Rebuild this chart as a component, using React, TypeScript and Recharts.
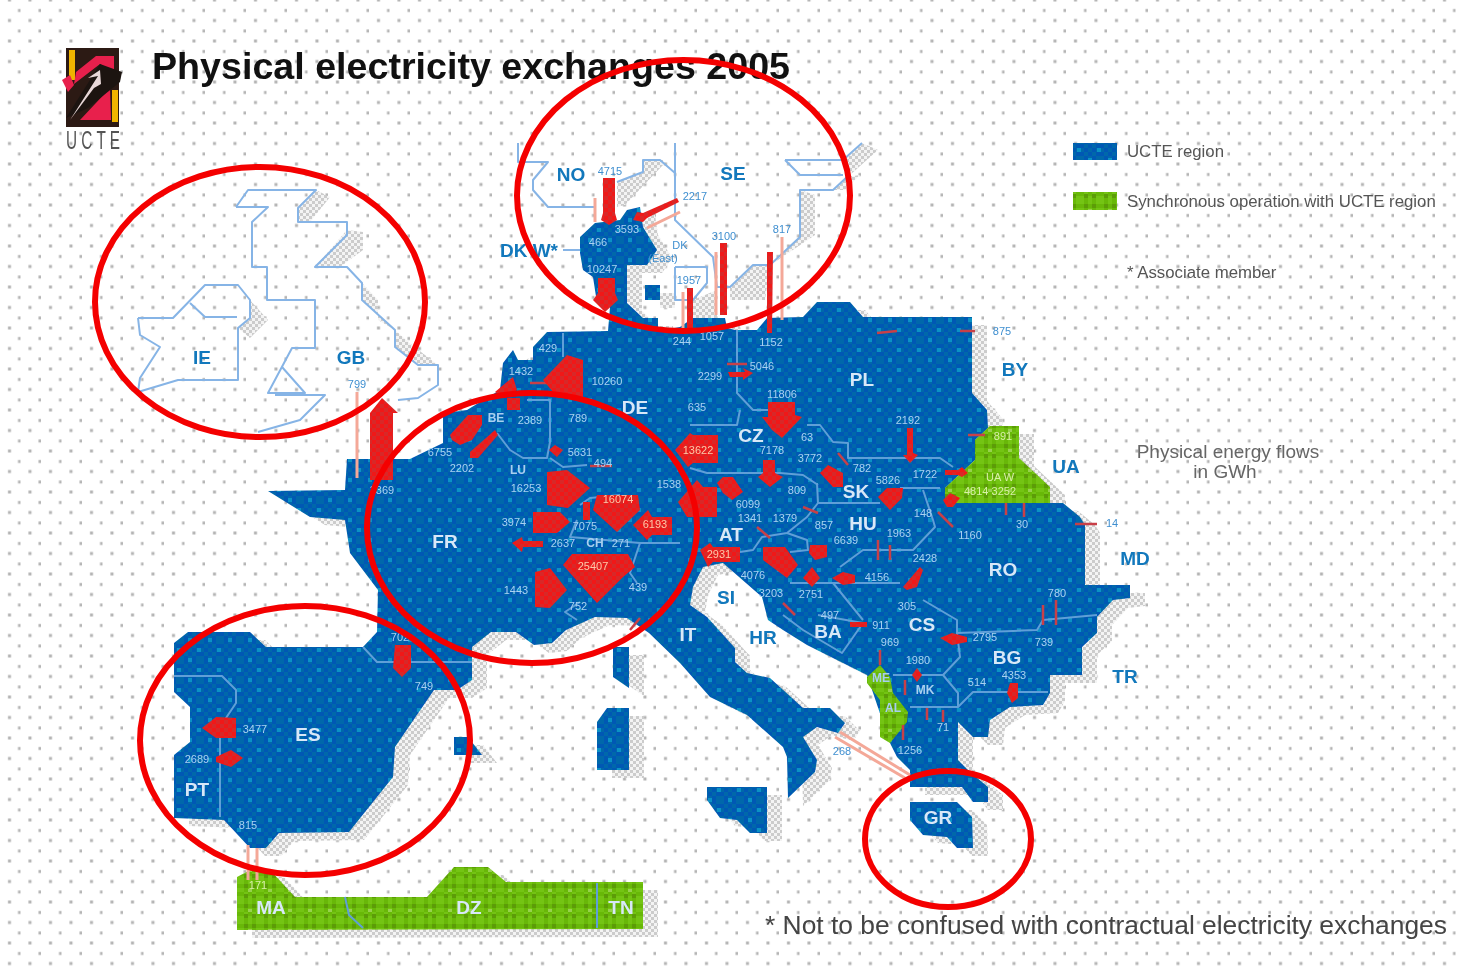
import { ReferenceArea, Scatter, ScatterChart, XAxis, YAxis } from "recharts";

type Pt = number[];

const PAGE: Pt[] = [[0, 0], [1462, 0], [1462, 968], [0, 968]];

const MAINLAND: Pt[] = [
  [268, 491], [345, 490], [347, 459], [410, 459], [443, 443], [443, 413], [467, 410], [500, 390], [503, 363],
  [513, 350], [518, 360], [533, 360], [533, 347], [547, 332], [608, 331], [610, 307], [597, 303], [593, 277],
  [583, 270], [580, 253], [580, 237], [595, 223], [620, 220], [627, 210], [640, 207], [643, 227], [657, 250],
  [647, 265], [627, 265], [627, 303], [643, 318], [658, 318], [658, 331], [680, 327], [693, 318], [725, 318],
  [727, 328], [735, 330], [757, 330], [767, 318], [803, 317], [817, 302], [850, 302], [863, 317], [972, 317],
  [972, 393], [987, 410], [988, 428], [975, 440], [975, 460], [945, 488], [945, 503], [1050, 503], [1063, 503],
  [1080, 517], [1085, 525], [1085, 585], [1130, 585], [1130, 598], [1113, 600], [1097, 617], [1097, 633],
  [1082, 647], [1082, 675], [1050, 675], [1050, 693], [1043, 705], [1010, 707], [990, 720], [988, 737],
  [973, 737], [958, 722], [958, 760], [970, 772], [988, 787], [988, 802], [973, 802], [962, 787], [910, 787],
  [910, 770], [897, 757], [890, 743], [867, 675], [837, 660], [807, 645], [783, 630], [768, 620], [762, 597],
  [723, 563], [703, 567], [693, 587], [690, 605], [707, 617], [735, 648], [735, 662], [747, 673], [770, 678],
  [803, 708], [830, 708], [845, 723], [838, 733], [817, 727], [803, 737], [817, 760], [815, 772], [788, 798],
  [787, 757], [783, 747], [747, 715], [710, 697], [680, 663], [649, 633], [627, 618], [595, 617], [566, 630],
  [552, 643], [534, 645], [516, 632], [491, 632], [472, 647], [472, 680], [457, 690], [434, 690], [395, 747],
  [393, 777], [349, 832], [279, 833], [266, 848], [250, 848], [224, 820], [174, 818], [174, 755], [190, 742],
  [190, 707], [174, 692], [174, 643], [188, 632], [250, 632], [266, 647], [363, 647], [377, 632], [378, 590],
  [350, 553], [345, 520], [310, 517],
];
const CORSICA: Pt[] = [[613, 647], [629, 647], [629, 688], [613, 677]];
const SARDINIA: Pt[] = [[597, 722], [607, 708], [629, 708], [629, 770], [597, 770]];
const BALEARIC: Pt[] = [[454, 737], [468, 737], [482, 755], [454, 755]];
const SICILY: Pt[] = [[707, 787], [767, 787], [767, 833], [750, 833], [737, 820], [720, 818], [707, 800]];
const CRETE: Pt[] = [[910, 802], [957, 802], [972, 817], [973, 848], [957, 848], [947, 837], [923, 835], [910, 820]];
const ZEALAND: Pt[] = [[645, 285], [660, 285], [660, 300], [645, 300]];
const BLUE_LAND = [MAINLAND, CORSICA, SARDINIA, BALEARIC, SICILY, CRETE, ZEALAND];

const UKRAINE_WEST: Pt[] = [[975, 440], [990, 426], [1019, 426], [1019, 458], [1050, 487], [1050, 503], [945, 503], [945, 488], [975, 460]];
const ALBANIA: Pt[] = [[867, 677], [880, 665], [890, 677], [893, 693], [908, 712], [907, 722], [890, 743], [880, 737], [880, 700], [867, 683]];
const MAGHREB: Pt[] = [[237, 930], [237, 877], [256, 867], [270, 870], [295, 897], [427, 897], [454, 867], [488, 867], [506, 882], [643, 882], [643, 929]];
const GREEN_LAND = [UKRAINE_WEST, ALBANIA, MAGHREB];

const LOOSE_SHADOWS: Pt[][] = [
  [[298, 208], [316, 190], [330, 197], [310, 222], [298, 222]],
  [[347, 230], [363, 232], [363, 250], [340, 267], [315, 267]],
  [[362, 283], [378, 300], [378, 320], [395, 330], [362, 300]],
  [[395, 330], [412, 345], [438, 365], [418, 365], [395, 347]],
  [[250, 300], [268, 320], [250, 338], [238, 328], [250, 318]],
  [[617, 182], [643, 172], [643, 160], [663, 160], [663, 165], [625, 205], [617, 207]],
  [[800, 190], [815, 195], [815, 235], [775, 262], [800, 237]],
  [[847, 177], [860, 175], [845, 190], [833, 190]],
  [[843, 160], [862, 143], [878, 150], [850, 175]],
  [[693, 300], [717, 290], [717, 318], [693, 318]],
  [[730, 287], [753, 265], [770, 265], [765, 300], [730, 300]],
];

const OUTLINES: Pt[][] = [
  [[236, 207], [248, 190], [316, 190], [298, 208], [298, 222], [347, 222], [347, 235], [315, 267], [347, 267], [362, 283], [362, 300], [395, 330], [395, 347], [418, 365], [438, 365], [438, 385], [418, 398], [398, 400]],
  [[236, 207], [268, 207], [252, 222], [252, 267], [267, 267], [267, 300], [315, 300], [315, 348], [292, 348], [268, 393], [305, 393], [282, 367]],
  [[275, 395], [325, 395], [300, 420], [258, 432]],
  [[138, 318], [173, 318], [205, 285], [238, 285], [250, 300], [250, 318], [238, 328], [238, 380], [178, 380], [138, 392], [140, 378], [160, 347], [140, 335], [138, 318]],
  [[190, 303], [205, 317], [237, 317]],
  [[518, 143], [518, 162], [525, 162], [548, 162], [533, 180], [533, 190], [548, 207], [595, 207]],
  [[617, 182], [643, 172], [643, 160], [660, 160], [675, 173]],
  [[675, 143], [675, 220], [713, 257], [717, 287], [730, 287], [753, 265], [770, 265], [800, 237], [800, 190], [833, 190], [847, 177]],
  [[785, 160], [843, 160], [862, 143]],
  [[785, 160], [800, 175], [843, 175]],
  [[675, 267], [707, 267], [707, 283], [693, 300], [675, 300], [675, 267]],
  [[563, 250], [580, 250]],
];

const BORDERS: Pt[][] = [
  [[737, 330], [737, 393], [753, 410], [770, 410]],
  [[740, 410], [737, 425], [690, 425]],
  [[807, 425], [820, 425], [833, 442], [848, 443], [848, 458], [940, 458], [953, 467]],
  [[817, 483], [818, 503], [880, 503]],
  [[690, 468], [707, 473], [780, 473], [803, 475], [818, 485]],
  [[900, 488], [940, 488]],
  [[923, 490], [933, 520], [935, 527], [913, 550], [863, 550], [840, 567]],
  [[790, 583], [900, 583]],
  [[833, 583], [863, 620]],
  [[818, 503], [807, 517], [787, 533], [762, 537], [753, 550], [740, 552]],
  [[787, 533], [807, 540], [808, 550], [790, 552]],
  [[923, 600], [957, 620], [957, 633], [1037, 630], [1043, 620], [1097, 615]],
  [[957, 633], [960, 657], [943, 675], [893, 675]],
  [[943, 675], [958, 693], [958, 707], [910, 707]],
  [[958, 707], [973, 692], [1048, 692]],
  [[818, 615], [863, 623], [842, 653], [803, 630], [783, 615]],
  [[497, 433], [510, 450], [523, 458], [547, 458], [550, 442], [550, 400], [527, 400]],
  [[550, 458], [563, 467], [587, 465]],
  [[577, 520], [570, 537], [640, 543], [680, 543]],
  [[640, 543], [630, 573], [637, 583]],
  [[580, 602], [565, 612], [577, 620]],
  [[580, 505], [590, 498], [620, 495]],
  [[563, 333], [563, 357]],
  [[363, 647], [377, 662], [472, 662]],
  [[174, 676], [222, 676], [236, 690], [236, 703], [220, 727], [220, 817]],
  [[345, 897], [349, 915], [363, 928]],
  [[597, 883], [597, 928]],
];

const RED_ARROWS: Pt[][] = [
  [[370, 480], [370, 413], [382, 398], [398, 413], [393, 413], [393, 480]],
  [[450, 435], [468, 415], [482, 415], [482, 425], [472, 440], [460, 445], [452, 440]],
  [[470, 458], [470, 452], [495, 430], [498, 435], [478, 458]],
  [[549, 450], [555, 445], [563, 450], [557, 457]],
  [[547, 472], [567, 470], [590, 488], [568, 508], [547, 505]],
  [[533, 512], [560, 512], [570, 522], [557, 533], [533, 533]],
  [[597, 495], [638, 495], [640, 510], [617, 532], [593, 510]],
  [[633, 525], [648, 510], [652, 517], [672, 517], [672, 535], [652, 535], [647, 540]],
  [[512, 543], [522, 537], [523, 541], [543, 541], [543, 547], [523, 547], [522, 552]],
  [[563, 565], [572, 554], [628, 554], [635, 567], [623, 577], [597, 603], [570, 573]],
  [[535, 572], [550, 568], [567, 590], [550, 608], [535, 607]],
  [[678, 502], [697, 480], [703, 487], [717, 487], [717, 517], [687, 517]],
  [[675, 450], [690, 433], [693, 435], [718, 435], [718, 463], [693, 463], [688, 467]],
  [[583, 502], [590, 502], [590, 520], [583, 520]],
  [[700, 550], [710, 543], [713, 547], [740, 547], [740, 562], [713, 562], [708, 567]],
  [[543, 380], [567, 355], [583, 360], [583, 398], [558, 398]],
  [[495, 392], [513, 377], [517, 390], [505, 398]],
  [[507, 398], [520, 398], [520, 410], [507, 410]],
  [[603, 178], [615, 178], [615, 213], [617, 220], [609, 225], [601, 220], [603, 213]],
  [[633, 220], [637, 212], [643, 213], [677, 198], [679, 202], [647, 218], [643, 222]],
  [[720, 243], [727, 243], [727, 315], [720, 315]],
  [[767, 252], [773, 252], [772, 333], [767, 333]],
  [[687, 288], [693, 288], [693, 330], [687, 330]],
  [[598, 278], [615, 278], [615, 293], [618, 300], [605, 312], [593, 300], [598, 293]],
  [[728, 372], [745, 372], [743, 368], [753, 373], [743, 380], [743, 377], [730, 377]],
  [[762, 417], [768, 417], [768, 402], [795, 402], [795, 415], [802, 417], [782, 438], [772, 430]],
  [[763, 460], [775, 460], [775, 473], [783, 477], [770, 487], [758, 477], [763, 473]],
  [[717, 483], [723, 477], [733, 477], [743, 492], [732, 500], [723, 493]],
  [[820, 473], [828, 465], [843, 473], [843, 487], [833, 487]],
  [[903, 455], [907, 455], [907, 428], [913, 428], [913, 453], [918, 455], [910, 463]],
  [[878, 497], [887, 488], [903, 488], [902, 498], [890, 510]],
  [[945, 470], [958, 470], [962, 467], [968, 473], [962, 477], [958, 475], [945, 475]],
  [[943, 500], [950, 493], [960, 498], [953, 507], [947, 507]],
  [[810, 545], [827, 545], [827, 557], [815, 560], [809, 553]],
  [[763, 547], [785, 547], [798, 565], [787, 578], [763, 560]],
  [[803, 578], [812, 567], [820, 578], [812, 587]],
  [[832, 578], [843, 572], [855, 575], [855, 583], [843, 585]],
  [[903, 587], [920, 567], [923, 570], [917, 587], [907, 590]],
  [[940, 638], [952, 633], [967, 637], [967, 642], [952, 645]],
  [[1007, 693], [1010, 683], [1018, 683], [1018, 698], [1012, 703]],
  [[912, 675], [917, 668], [922, 675], [917, 682]],
  [[850, 622], [867, 622], [867, 627], [850, 627]],
  [[395, 645], [411, 645], [411, 668], [402, 677], [393, 668]],
  [[202, 728], [216, 717], [236, 718], [236, 738], [216, 738]],
  [[216, 757], [231, 750], [243, 758], [231, 767], [216, 762]],
];

const RED_LINES: Pt[][] = [
  [[727, 364], [747, 364]], [[838, 453], [848, 465]], [[938, 512], [953, 527]], [[757, 527], [770, 538]],
  [[783, 603], [795, 615]], [[803, 507], [818, 513]], [[878, 540], [878, 560]], [[890, 545], [890, 560]],
  [[877, 333], [897, 331]], [[960, 331], [975, 331]], [[968, 435], [985, 435]], [[1006, 503], [1006, 515]],
  [[1024, 503], [1024, 517]], [[1075, 524], [1097, 524]], [[1043, 605], [1043, 625]], [[1056, 600], [1056, 625]],
  [[880, 650], [880, 665]], [[905, 680], [905, 695]], [[927, 708], [927, 720]], [[943, 710], [943, 722]],
  [[903, 725], [903, 740]], [[530, 383], [555, 383]], [[590, 466], [612, 466]], [[640, 618], [630, 630]],
];
const PALE_LINES: Pt[][] = [
  [[782, 237], [782, 320]], [[716, 252], [716, 315]], [[683, 292], [683, 330]], [[595, 198], [595, 222]],
  [[647, 228], [680, 212]], [[357, 392], [357, 478]], [[248, 845], [248, 880]], [[257, 848], [257, 880]],
  [[840, 732], [910, 775]], [[835, 737], [905, 778]],
];

const ELLIPSES: Pt[] = [
  [95, 167, 425, 437],
  [517, 60, 850, 331],
  [367, 393, 697, 663],
  [140, 606, 470, 875],
  [865, 771, 1031, 907],
];

const LEGEND_BLUE: Pt[] = [[1073, 143], [1117, 143], [1117, 160], [1073, 160]];
const LEGEND_GREEN: Pt[] = [[1073, 192], [1117, 192], [1117, 210], [1073, 210]];

const LOGO_FRAME: Pt[] = [[66, 48], [119, 48], [119, 127], [66, 127]];
const LOGO_YELLOW: Pt[][] = [
  [[69, 50], [75, 50], [75, 80], [69, 80]],
  [[112, 90], [118, 90], [118, 122], [112, 122]],
];
const LOGO_RED: Pt[][] = [
  [[76, 72], [96, 56], [114, 56], [114, 72], [100, 64], [74, 84]],
  [[80, 120], [110, 88], [111, 120]],
  [[62, 80], [70, 75], [74, 85], [68, 92]],
];
const LOGO_BLACK: Pt[] = [[66, 118], [100, 64], [122, 72], [120, 82], [88, 108]];
const LOGO_BOLT: Pt[] = [[70, 120], [98, 76], [88, 78], [100, 70], [101, 84], [94, 88]];

const DARK_COUNTRIES: any[][] = [
  ["NO", 571, 174], ["SE", 733, 173], ["DK W*", 529, 250], ["IE", 202, 357], ["GB", 351, 357], ["BY", 1015, 369],
  ["UA", 1066, 466], ["MD", 1135, 558], ["SI", 726, 597], ["HR", 763, 637], ["TR", 1125, 676],
];
const LIGHT_COUNTRIES: any[][] = [
  ["PL", 862, 379], ["DE", 635, 407], ["CZ", 751, 435], ["SK", 856, 491], ["HU", 863, 523], ["AT", 731, 534],
  ["RO", 1003, 569], ["FR", 445, 541], ["IT", 688, 634], ["BA", 828, 631], ["CS", 922, 624], ["BG", 1007, 657],
  ["ES", 308, 734], ["PT", 197, 789], ["GR", 938, 817], ["MA", 271, 907], ["DZ", 469, 907], ["TN", 621, 907],
];
const SMALL_COUNTRIES: any[][] = [
  ["LU", 518, 470], ["CH", 595, 543], ["BE", 496, 418], ["MK", 925, 690], ["AL", 893, 708], ["ME", 881, 678],
];
const DARK_VALUES: any[][] = [
  ["4715", 610, 171], ["2217", 695, 196], ["3100", 724, 236], ["817", 782, 229], ["DK", 680, 245], ["(East)", 663, 258],
  ["1957", 689, 280], ["875", 1002, 331], ["799", 357, 384], ["14", 1112, 523], ["268", 842, 751],
];
const LIGHT_VALUES: any[][] = [
  ["3593", 627, 229], ["466", 598, 242], ["10247", 602, 269], ["244", 682, 341], ["1057", 712, 336], ["1152", 771, 342],
  ["429", 548, 348], ["10260", 607, 381], ["2299", 710, 376], ["5046", 762, 366], ["11806", 782, 394], ["635", 697, 407],
  ["2192", 908, 420], ["1432", 521, 371], ["789", 578, 418], ["2389", 530, 420], ["6755", 440, 452],
  ["2202", 462, 468], ["5631", 580, 452], ["494", 603, 463], ["16253", 526, 488], ["1538", 669, 484], ["3974", 514, 522],
  ["7075", 585, 526], ["2637", 563, 543], ["271", 621, 543], ["1443", 516, 590], ["752", 578, 606], ["439", 638, 587],
  ["3369", 382, 490], ["7178", 772, 450], ["63", 807, 437], ["3772", 810, 458], ["782", 862, 468], ["5826", 888, 480],
  ["1722", 925, 474], ["6099", 748, 504], ["1341", 750, 518], ["1379", 785, 518], ["809", 797, 490], ["857", 824, 525],
  ["6639", 846, 540], ["1963", 899, 533], ["148", 923, 513], ["1160", 970, 535], ["2428", 925, 558], ["4156", 877, 577],
  ["4076", 753, 575], ["3203", 771, 593], ["2751", 811, 594], ["30", 1022, 524], ["780", 1057, 593], ["739", 1044, 642],
  ["2795", 985, 637], ["305", 907, 606], ["911", 881, 625], ["497", 830, 615], ["969", 890, 642], ["1980", 918, 660],
  ["514", 977, 682], ["4353", 1014, 675], ["71", 943, 727], ["1256", 910, 750], ["3477", 255, 729], ["2689", 197, 759],
  ["815", 248, 825], ["702", 400, 637], ["749", 424, 686],
];
const GREEN_VALUES: any[][] = [
  ["891", 1003, 436], ["UA W", 1000, 477], ["4814 3252", 990, 491], ["171", 258, 885],
];
const RED_VALUES: any[][] = [
  ["13622", 698, 450], ["16074", 618, 499], ["6193", 655, 524], ["25407", 593, 566], ["2931", 719, 554],
];
const LEGEND_TEXT: any[][] = [
  ["UCTE region", 1127, 151], ["Synchronous operation with UCTE region", 1127, 201], ["* Associate member", 1127, 272],
];
const NOTE_TEXT: any[][] = [
  ["Physical energy flows", 1228, 451], ["in GWh", 1225, 471],
];

const hidden = () => null as any;
const toRows = (pts: Pt[]) => pts.map(([x, y]) => ({ x, y }));

type PathStyle = { fill?: string; stroke?: string; strokeWidth?: number; open?: boolean; dx?: number; dy?: number };

function pathSeries(key: string, pts: Pt[], style: PathStyle) {
  const { fill = "none", stroke = "none", strokeWidth = 0, open, dx = 0, dy = 0 } = style;
  const drawLine = (props: any) => {
    const d = props.points.map((p: any) => `${p.x},${p.y}`).join(" ");
    const Tag: any = open ? "polyline" : "polygon";
    return (
      <Tag
        points={d}
        fill={fill}
        stroke={stroke}
        strokeWidth={strokeWidth}
        strokeLinejoin="round"
        transform={`translate(${dx} ${dy})`}
      />
    );
  };
  return <Scatter key={key} data={toRows(pts)} isAnimationActive={false} shape={hidden} line={drawLine} />;
}

function textSeries(key: string, rows: any[][], style: any) {
  const data = rows.map(([label, x, y]) => ({ label, x, y }));
  const drawText = (props: any) => (
    <text x={props.cx} y={props.cy} dominantBaseline="central" fontFamily="Liberation Sans, Arial, sans-serif" {...style}>
      {props.payload.label}
    </text>
  );
  return <Scatter key={key} data={data} isAnimationActive={false} shape={drawText} />;
}

const axes = [
  <XAxis key="x" type="number" dataKey="x" domain={[0, 1462]} allowDataOverflow hide />,
  <YAxis key="y" type="number" dataKey="y" domain={[0, 968]} allowDataOverflow reversed hide />,
];

const checker = (dark: string, cell: number, n: number) => {
  const out = [];
  for (let i = 0; i < n; i++) {
    for (let j = 0; j < n; j++) {
      if ((i + j) % 2) {
        out.push(<rect key={`${i}-${j}`} x={i * cell} y={j * cell} width={cell} height={cell} fill={dark} shapeRendering="crispEdges" />);
      }
    }
  }
  return out;
};

function Patterns() {
  return (
    <defs>
      <pattern id="bgDots" width="20.5" height="20.5" patternUnits="userSpaceOnUse">
        <rect width="20.5" height="20.5" fill="#ffffff" />
        <rect x="8" y="19" width="3" height="1.5" fill="#b4b4b4" />
        <rect x="8" y="0" width="3" height="1.5" fill="#b4b4b4" />
        <rect x="18" y="9" width="2.5" height="3" fill="#b4b4b4" />
      </pattern>
      <pattern id="blueFill" width="20" height="20" patternUnits="userSpaceOnUse">
        <rect width="20" height="20" fill="#0068aa" />
        {checker("#0058b4", 4, 5)}
        <rect x="8" y="18" width="4" height="2" fill="#0a92c4" />
        <rect x="8" y="0" width="4" height="2" fill="#0a92c4" />
        <rect x="17" y="8" width="3" height="4" fill="#0a92c4" />
        <rect x="0" y="8" width="1" height="4" fill="#0a92c4" />
      </pattern>
      <pattern id="greenFill" width="20" height="20" patternUnits="userSpaceOnUse">
        <rect width="20" height="20" fill="#74c414" />
        {checker("#68b808", 4, 5)}
        <rect x="4" y="4" width="4" height="4" fill="#5c9c08" />
        <rect x="12" y="4" width="4" height="4" fill="#5c9c08" />
        <rect x="4" y="14" width="4" height="4" fill="#5c9c08" />
        <rect x="12" y="14" width="4" height="4" fill="#5c9c08" />
        <rect x="8" y="9" width="4" height="3" fill="#98d050" />
      </pattern>
      <pattern id="redFill" width="8" height="8" patternUnits="userSpaceOnUse">
        <rect width="8" height="8" fill="#d82828" />
        {checker("#f01818", 4, 2)}
      </pattern>
      <pattern id="grayFill" width="6" height="6" patternUnits="userSpaceOnUse">
        <rect width="6" height="6" fill="#f4f4f4" />
        {checker("#cccccc", 3, 2)}
      </pattern>
    </defs>
  );
}

export default function App() {
  const size = { width: 1462, height: 968, margin: { top: 0, right: 0, bottom: 0, left: 0 } };
  return (
    <div style={{ position: "absolute", left: 0, top: 0, width: 1462, height: 968, background: "#fff", overflow: "hidden" }}>
      <div style={{ position: "absolute", left: 0, top: 0, filter: "blur(0.55px)" }}>
        <ScatterChart {...size}>
          <Patterns />
          {axes}
          {pathSeries("page", PAGE, { fill: "url(#bgDots)" })}
          {LOOSE_SHADOWS.map((p, i) => pathSeries(`ls${i}`, p, { fill: "url(#grayFill)" }))}
          {[...BLUE_LAND, ...GREEN_LAND].map((p, i) => pathSeries(`sh${i}`, p, { fill: "url(#grayFill)", dx: 15, dy: 8 }))}
          {OUTLINES.map((p, i) => pathSeries(`ol${i}`, p, { stroke: "#86b4e6", strokeWidth: 2, open: true }))}
          {BLUE_LAND.map((p, i) => pathSeries(`bl${i}`, p, { fill: "url(#blueFill)" }))}
          {GREEN_LAND.map((p, i) => pathSeries(`gr${i}`, p, { fill: "url(#greenFill)" }))}
          {BORDERS.map((p, i) => pathSeries(`bd${i}`, p, { stroke: "#5f9fd8", strokeWidth: 2, open: true }))}
          {PALE_LINES.map((p, i) => pathSeries(`pl${i}`, p, { stroke: "#f4a898", strokeWidth: 3, open: true }))}
          {RED_LINES.map((p, i) => pathSeries(`rl${i}`, p, { stroke: "#c84048", strokeWidth: 2.5, open: true }))}
          {RED_ARROWS.map((p, i) => pathSeries(`ra${i}`, p, { fill: "url(#redFill)" }))}
          {pathSeries("legB", LEGEND_BLUE, { fill: "url(#blueFill)" })}
          {pathSeries("legG", LEGEND_GREEN, { fill: "url(#greenFill)" })}
          {pathSeries("logo", LOGO_FRAME, { fill: "#2c1a14" })}
          {LOGO_YELLOW.map((p, i) => pathSeries(`ly${i}`, p, { fill: "#f0b400" }))}
          {LOGO_RED.map((p, i) => pathSeries(`lr${i}`, p, { fill: "#e8204c" }))}
          {pathSeries("lblack", LOGO_BLACK, { fill: "#1c1410" })}
          {pathSeries("bolt", LOGO_BOLT, { fill: "#e8d8d8" })}
          {textSeries("ucte", [["U C T E", 66, 140]], { fontSize: 25, fill: "#555", textLength: 54, lengthAdjust: "spacingAndGlyphs" })}
          {textSeries("title", [["Physical electricity exchanges 2005", 152, 66]], { fontSize: 37, fontWeight: 700, fill: "#111", textLength: 638, lengthAdjust: "spacingAndGlyphs" })}
          {textSeries("footer", [["* Not to be confused with contractual electricity exchanges", 765, 925]], { fontSize: 25, fill: "#444", textLength: 682, lengthAdjust: "spacingAndGlyphs" })}
          {textSeries("legend", LEGEND_TEXT, { fontSize: 16.8, fill: "#555" })}
          {textSeries("note", NOTE_TEXT, { fontSize: 19, fill: "#666", textAnchor: "middle" })}
          {textSeries("cDark", DARK_COUNTRIES, { fontSize: 19, fontWeight: 700, fill: "#1278bc", textAnchor: "middle" })}
          {textSeries("cLight", LIGHT_COUNTRIES, { fontSize: 19, fontWeight: 700, fill: "#d8e8f8", textAnchor: "middle" })}
          {textSeries("cSmall", SMALL_COUNTRIES, { fontSize: 12, fontWeight: 700, fill: "#a8cff0", textAnchor: "middle" })}
          {textSeries("vDark", DARK_VALUES, { fontSize: 11, fill: "#3f8fd0", textAnchor: "middle" })}
          {textSeries("vLight", LIGHT_VALUES, { fontSize: 11, fill: "#a8d2f2", textAnchor: "middle" })}
          {textSeries("vGreen", GREEN_VALUES, { fontSize: 11, fill: "#d8f0a8", textAnchor: "middle" })}
          {textSeries("vRed", RED_VALUES, { fontSize: 11, fill: "#ffc8a8", textAnchor: "middle" })}
        </ScatterChart>
      </div>
      <div style={{ position: "absolute", left: 0, top: 0 }}>
        <ScatterChart {...size}>
          {axes}
          {ELLIPSES.map(([x1, y1, x2, y2], i) => (
            <ReferenceArea
              key={i}
              x1={x1}
              y1={y1}
              x2={x2}
              y2={y2}
              shape={(p: any) => (
                <ellipse
                  cx={p.x + p.width / 2}
                  cy={p.y + p.height / 2}
                  rx={p.width / 2}
                  ry={p.height / 2}
                  fill="none"
                  stroke="#f40000"
                  strokeWidth={6}
                />
              )}
            />
          ))}
        </ScatterChart>
      </div>
    </div>
  );
}
